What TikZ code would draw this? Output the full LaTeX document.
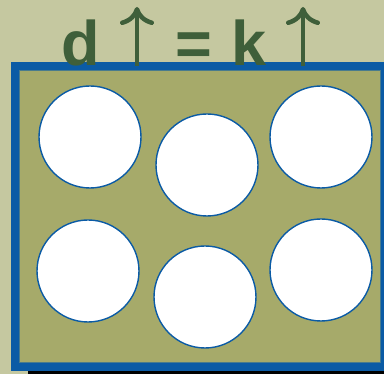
\documentclass[tikz,border=0pt]{standalone}
\usepackage{fontspec}
\setmainfont{Liberation Sans}
\usetikzlibrary{arrows.meta, positioning}
\definecolor{paleolive}{HTML}{C5C8A0}
\definecolor{boxolive}{HTML}{A6AA6A}
\definecolor{frameblue}{HTML}{0B5BA5}
\definecolor{darkgreen}{HTML}{3F5F3A}

\begin{document}
\begin{tikzpicture}[x=1pt, y=1pt,
    hole/.style={circle, draw=frameblue, line width=1.4pt, fill=white, minimum size=102pt, inner sep=0pt},
    sym/.style={anchor=base, inner sep=0pt, text=darkgreen, font=\fontsize{63}{63}\selectfont\bfseries},
    uparrow/.style={line width=4.5pt, darkgreen, -{Computer Modern Rightarrow[length=18pt, width=34pt]}}]
					\useasboundingbox[fill=paleolive] (0,0) rectangle (384,374);
					\fill[black] (28,0) rectangle (384,10);
					\fill[frameblue] (11,3) rectangle (384,312);
					\filldraw[fill=boxolive, draw=frameblue!60!boxolive, line width=0.6pt] (19,12) rectangle (380,304);
					\node[hole] (c1) at (90,237) {};
					\node[hole] (c2) at (207,209) {};
					\node[hole] (c3) at (321,237) {};
					\node[hole] (c4) at (88,103) {};
					\node[hole] (c5) at (205,77) {};
					\node[hole] (c6) at (321,104) {};
					\node[sym] (d) at (81,308) {d};
					\node[sym] (eq) at (194,308) {=};
					\node[sym] (k) at (249.5,308) {k};
					\coordinate (dlow) at (137,308);
					\coordinate (dhigh) at (137,367);
					\coordinate (klow) at (303,308);
					\coordinate (khigh) at (303,367);
					\draw[uparrow] (dlow) -- (dhigh);
					\draw[uparrow] (klow) -- (khigh);
				\end{tikzpicture}
\end{document}
